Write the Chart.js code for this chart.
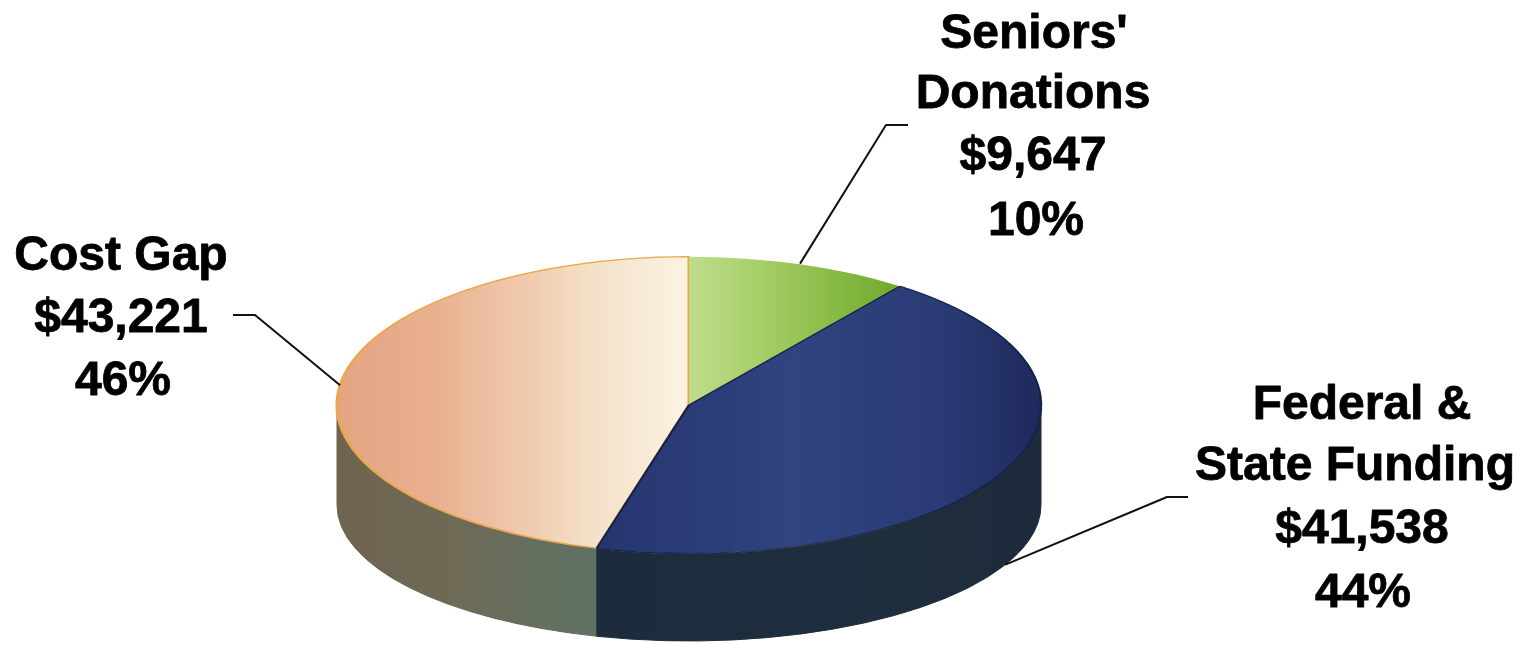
<!DOCTYPE html>
<html>
<head>
<meta charset="utf-8">
<title>Funding sources</title>
<script src="https://cdn.jsdelivr.net/npm/chart.js@4/dist/chart.umd.min.js"></script>
<style>
  html, body { margin: 0; padding: 0; background: #fff; }
  canvas { display: block; }
</style>
</head>
<body>
<canvas id="fundingChart" width="1530" height="645"></canvas>
<script>
// Slices run clockwise; Cost Gap goes first so the later slices paint over its rim
const categories = ['Cost Gap', "Seniors' Donations", 'Federal & State Funding'];
const amounts = [43221, 9647, 41538];
const nameLines = [['Cost Gap'], ["Seniors'", 'Donations'], ['Federal &', 'State Funding']];

const total = amounts.reduce((a, b) => a + b, 0);

// Pie is laid out as a small circle, then stretched sideways into an ellipse
const CENTER_X = 689;
const CENTER_Y = 405;
const RADIUS_X = 352;
const RADIUS_Y = 149;
// Lower edge of the wall is a slightly flatter ellipse, so the sides stay tall
const WALL_DROP = 100;
const WALL_RADIUS_Y = 136;

const topStops = [
  [[0, '#e4a482'], [0.14, '#e9b08f'], [0.26, '#f0c8ac'], [0.355, '#f4dfc6'], [0.45, '#f8edd9'], [0.5, '#fbf3e1']],
  [[0.5, '#bfdc8c'], [0.6, '#a6cf67'], [0.8, '#6fa82a']],
  [[0.35, '#25346f'], [0.65, '#2f4480'], [0.85, '#2a3b76'], [1, '#1f2a5c']],
];
const wallStops = [
  [[0, '#6e6450'], [0.17, '#6e6a56'], [0.37, '#5e7264']],
  [[0.37, '#1f2e3e'], [1, '#1f2e3e']],
  [[0.37, '#1d2c3c'], [0.8, '#1f2e3d'], [1, '#1d2a3b']],
];
const rimColors = ['#e8a84e', 'rgba(0,0,0,0)', '#17224a'];
const rimWidths = [1.3, 0, 1];

// Label block and the elbow of its leader line
const labelLayout = [
  { xs: [121, 121, 123], baselines: [270, 332, 395], tail: [233, 315], elbow: [255, 315], onWall: false },
  { xs: [1034, 1033, 1033, 1036], baselines: [48, 108, 170, 235], tail: [908, 125], elbow: [886, 125], onWall: false },
  { xs: [1362, 1355, 1362, 1363], baselines: [419, 480, 543, 607], tail: [1188, 497], elbow: [1167, 497], onWall: true },
];

const horizontalGradient = (ctx, x0, x1, stops) => {
  const g = ctx.createLinearGradient(x0, 0, x1, 0);
  stops.forEach(([at, color]) => g.addColorStop(at, color));
  return g;
};

const sliceFill = (context) => {
  const area = context.chart.chartArea;
  if (!area) return '#999';
  return horizontalGradient(context.chart.ctx, area.left, area.right, topStops[context.dataIndex]);
};

// Side wall under the lower half of the ellipse, one piece per slice
const drawWalls = (chart) => {
  const ctx = chart.ctx;
  chart.getDatasetMeta(0).data.forEach((arc, i) => {
    const { startAngle, endAngle, x, y } = arc.getProps(['startAngle', 'endAngle', 'x', 'y'], true);
    [-1, 0, 1].forEach((turn) => {
      const from = Math.max(startAngle, turn * 2 * Math.PI);
      const to = Math.min(endAngle, turn * 2 * Math.PI + Math.PI);
      if (to <= from) return;
      ctx.beginPath();
      ctx.ellipse(x, y, RADIUS_X, RADIUS_Y, 0, from, to);
      ctx.ellipse(x, y + WALL_DROP, RADIUS_X, WALL_RADIUS_Y, 0, to, from, true);
      ctx.closePath();
      const fill = horizontalGradient(ctx, x - RADIUS_X, x + RADIUS_X, wallStops[i]);
      ctx.fillStyle = fill;
      ctx.strokeStyle = fill;
      ctx.lineWidth = 1;
      ctx.fill();
      ctx.stroke();
    });
  });
};

const stretchPlugin = {
  id: 'stretch',
  beforeDatasetsDraw(chart) {
    drawWalls(chart);
    const ctx = chart.ctx;
    const arc = chart.getDatasetMeta(0).data[0];
    const { x, outerRadius } = arc.getProps(['x', 'outerRadius'], true);
    ctx.save();
    ctx.translate(x, 0);
    ctx.scale(RADIUS_X / outerRadius, 1);
    ctx.translate(-x, 0);
  },
  afterDatasetsDraw(chart) {
    chart.ctx.restore();
  },
};

const labelPlugin = {
  id: 'pieLabels',
  afterDraw(chart) {
    const ctx = chart.ctx;
    ctx.save();
    chart.getDatasetMeta(0).data.forEach((arc, i) => {
      const { startAngle, endAngle, x, y } = arc.getProps(['startAngle', 'endAngle', 'x', 'y'], true);
      const mid = (startAngle + endAngle) / 2;
      const spot = labelLayout[i];
      const endY = spot.onWall
        ? y + WALL_DROP + WALL_RADIUS_Y * Math.sin(mid)
        : y + RADIUS_Y * Math.sin(mid);

      ctx.beginPath();
      ctx.moveTo(spot.tail[0], spot.tail[1]);
      ctx.lineTo(spot.elbow[0], spot.elbow[1]);
      ctx.lineTo(x + RADIUS_X * Math.cos(mid), endY);
      ctx.strokeStyle = '#111';
      ctx.lineWidth = 2;
      ctx.stroke();

      const lines = [
        ...nameLines[i],
        '$' + amounts[i].toLocaleString('en-US'),
        Math.round((amounts[i] / total) * 100) + '%',
      ];
      ctx.font = 'bold 48px "Liberation Sans", Arial, sans-serif';
      ctx.fillStyle = '#000';
      ctx.strokeStyle = '#000';
      ctx.lineWidth = 0.8;
      ctx.lineJoin = 'round';
      ctx.textAlign = 'center';
      ctx.textBaseline = 'alphabetic';
      lines.forEach((line, n) => {
        ctx.fillText(line, spot.xs[n], spot.baselines[n]);
        ctx.strokeText(line, spot.xs[n], spot.baselines[n]);
      });
    });
    ctx.restore();
  },
};

new Chart(document.getElementById('fundingChart'), {
  type: 'pie',
  data: {
    labels: categories,
    datasets: [{
      data: amounts,
      backgroundColor: sliceFill,
      borderColor: rimColors,
      borderWidth: rimWidths,
    }],
  },
  options: {
    responsive: false,
    animation: false,
    events: [],
    // Seniors' Donations starts at twelve o'clock
    rotation: -(amounts[0] / total) * 360,
    layout: {
      padding: {
        left: CENTER_X - RADIUS_Y,
        right: 1530 - CENTER_X - RADIUS_Y,
        top: CENTER_Y - RADIUS_Y,
        bottom: 645 - CENTER_Y - RADIUS_Y,
      },
    },
    plugins: {
      legend: { display: false },
      tooltip: { enabled: false },
    },
  },
  plugins: [stretchPlugin, labelPlugin],
});
</script>
</body>
</html>
